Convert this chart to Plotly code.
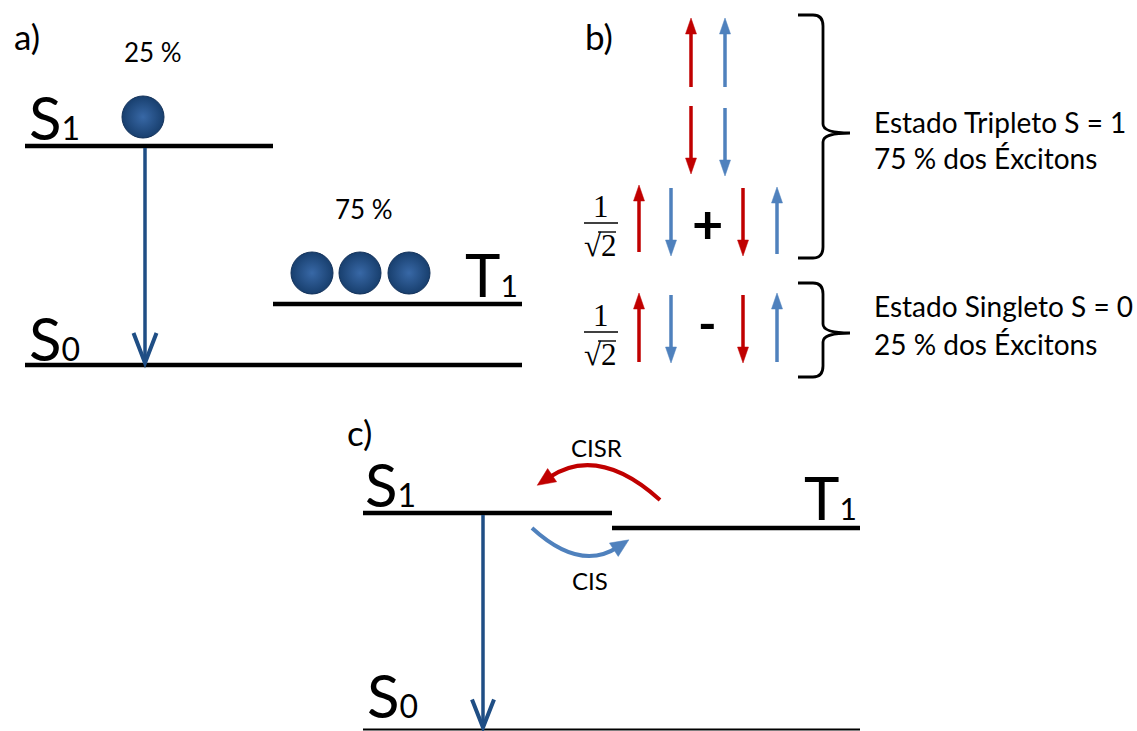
import math
import plotly.graph_objects as go

W, H = 1137, 731
FONT = "Lato"
SERIF = "Liberation Serif"
DARK_BLUE = "#1F4E85"
RED = "#C00000"
LBLUE = "#4F81BD"

# ---------------- content ----------------
panel_labels = ["a)", "b)", "c)"]
singlet_percent = 25
triplet_percent = 75
state_texts = ["Estado Tripleto S = 1", "75 % dos Éxcitons",
               "Estado Singleto S = 0", "25 % dos Éxcitons"]
transfer_labels = ["CISR", "CIS"]

# ---------------- panel a geometry ----------------
a_level_names = ["S", "T", "S"]
a_level_subs = ["1", "1", "0"]
a_level_x0 = [25, 273, 25]
a_level_x1 = [273, 522, 522]
a_level_y = [146, 304, 365]
a_label_x = [27, 463, 27]
a_label_y = [117, 274, 338]

singlet_sphere_x = [143]
singlet_sphere_y = [117]
triplet_sphere_x = [312, 360, 409]
triplet_sphere_y = [273, 273, 273]

# ---------------- panel c geometry ----------------
c_level_names = ["S", "T", "S"]
c_level_subs = ["1", "1", "0"]
c_level_x0 = [363, 612, 363]
c_level_x1 = [612, 860, 860]
c_level_y = [513, 528, 729.5]
c_level_w = [4.5, 4.5, 2]
c_label_x = [363, 802, 365]
c_label_y = [484, 497, 695]

# ---------------- panel b spin arrows ----------------
spin_x = [691, 725, 691, 725, 639, 671, 743, 777, 639, 671, 743, 777]
spin_tail = [87, 87, 106, 108, 252, 188, 188, 254, 362, 295, 295, 362]
spin_tip = [18, 18, 174, 176, 185, 256, 256, 187, 293, 363, 363, 293]
spin_color = [RED, LBLUE, RED, LBLUE, RED, LBLUE, RED, LBLUE, RED, LBLUE, RED, LBLUE]

shapes = []
annotations = []


def line(x0, y0, x1, y1, color="black", width=4.5):
    shapes.append(dict(type="line", xref="x", yref="y", x0=x0, y0=y0, x1=x1, y1=y1,
                       line=dict(color=color, width=width)))


def path(d, color="black", width=3, fill=None):
    s = dict(type="path", xref="x", yref="y", path=d, line=dict(color=color, width=width))
    if fill:
        s["fillcolor"] = fill
        s["line"] = dict(color=color, width=0.5)
    shapes.append(s)


def text(x, y, s, size, xanchor="left", yanchor="middle", family=FONT, color="black"):
    annotations.append(dict(x=x, y=y, xref="x", yref="y", text=s, showarrow=False,
                            xanchor=xanchor, yanchor=yanchor,
                            font=dict(family=family, size=size, color=color)))


def head(tx, ty, dx, dy, length, half, color):
    n = math.hypot(dx, dy)
    ux, uy = dx / n, dy / n
    px, py = -uy, ux
    bx, by = tx - ux * length, ty - uy * length
    d = (f"M {tx},{ty} L {bx + px * half},{by + py * half} "
         f"L {bx - px * half},{by - py * half} Z")
    path(d, color=color, fill=color)


def chevron(tx, ty, length, half, color, width):
    d = f"M {tx - half},{ty - length} L {tx},{ty} L {tx + half},{ty - length}"
    path(d, color=color, width=width)


def state_label(x, y, name, sub, big=60, small=32):
    text(x, y, f"{name}<span style='font-size:{small}px'>{sub}</span>", big)


# ---------------- panel a ----------------
text(12, 36, panel_labels[0], 35)
for x0, x1, y in zip(a_level_x0, a_level_x1, a_level_y):
    line(x0, y, x1, y)
for x, y, n, s in zip(a_label_x, a_label_y, a_level_names, a_level_subs):
    state_label(x, y, n, s, 60, 32 if n == "S" else 30)
text(153, 52, f"{singlet_percent} %", 26, xanchor="center")
text(364, 209, f"{triplet_percent} %", 26, xanchor="center")
# decay arrow
line(145, a_level_y[0] + 2, 145, a_level_y[2] - 4, DARK_BLUE, 3.5)
chevron(145, a_level_y[2] - 2, 30, 11.5, DARK_BLUE, 4)

# ---------------- panel b ----------------
text(583, 36, panel_labels[1], 35)
for x, t0, t1, c in zip(spin_x, spin_tail, spin_tip, spin_color):
    d = 1 if t1 > t0 else -1
    line(x, t0, x, t1 - d * 12, c, 3.5)
    head(x, t1, 0, d, 16, 5.5, c)

# 1/sqrt(2) prefactors
for yc in [223, 332]:
    text(601, yc - 17, "1", 31, xanchor="center", family=SERIF)
    line(584, yc, 618, yc, "black", 1.4)
    text(600, yc + 22, "√2", 31, xanchor="center", family=SERIF)
    line(598, yc + 9, 616, yc + 9, "black", 1.4)
text(707, 223, "<b>+</b>", 54, xanchor="center")
text(707, 323, "<b>-</b>", 50, xanchor="center")

# braces
def brace(xl, xm, xp, yt, ym, yb):
    d = (f"M {xl},{yt} L {xm - 10},{yt} Q {xm},{yt} {xm},{yt + 11} "
         f"L {xm},{ym - 9} Q {xm},{ym} {xp},{ym} Q {xm},{ym} {xm},{ym + 9} "
         f"L {xm},{yb - 11} Q {xm},{yb} {xm - 10},{yb} L {xl},{yb}")
    path(d, "black", 2.8)


brace(798, 823, 850, 15, 133, 258)
brace(798, 823, 850, 283, 333, 377)
text(872, 122, state_texts[0], 28)
text(872, 158, state_texts[1], 28)
text(872, 306, state_texts[2], 28)
text(872, 344, state_texts[3], 28)

# ---------------- panel c ----------------
text(345, 432, panel_labels[2], 35)
for x0, x1, y, w in zip(c_level_x0, c_level_x1, c_level_y, c_level_w):
    line(x0, y, x1, y, "black", w)
for x, y, n, s in zip(c_label_x, c_label_y, c_level_names, c_level_subs):
    state_label(x, y, n, s, 60, 32 if n == "S" else 30)
# decay arrow
line(483, c_level_y[0] + 2, 483, c_level_y[2] - 4, DARK_BLUE, 3.5)
chevron(483, c_level_y[2] - 2, 28, 11, DARK_BLUE, 4)

# CISR (red) curve: T1 -> S1
p0, cc, p2 = (660, 500), (598, 444), (548, 478)
path(f"M {p0[0]},{p0[1]} Q {cc[0]},{cc[1]} {p2[0]},{p2[1]}", RED, 4)
dx, dy = p2[0] - cc[0], p2[1] - cc[1]
n = math.hypot(dx, dy)
head(p2[0] + dx / n * 13, p2[1] + dy / n * 13, dx, dy, 18, 8, RED)
text(596, 447, transfer_labels[0], 24, xanchor="center")

# CIS (blue) curve: S1 -> T1
p0, cc, p2 = (532, 528), (580, 572), (618, 547)
path(f"M {p0[0]},{p0[1]} Q {cc[0]},{cc[1]} {p2[0]},{p2[1]}", LBLUE, 4)
dx, dy = p2[0] - cc[0], p2[1] - cc[1]
n = math.hypot(dx, dy)
head(p2[0] + dx / n * 13, p2[1] + dy / n * 13, dx, dy, 18, 8, LBLUE)
text(590, 580, transfer_labels[1], 24, xanchor="center")

fig = go.Figure()
sphere_marker = dict(size=42, color="#183F6E",
                     gradient=dict(type="radial", color="#3868A6"),
                     line=dict(color="#12315A", width=1))
fig.add_trace(go.Scatter(x=singlet_sphere_x, y=singlet_sphere_y, mode="markers",
                         marker=sphere_marker, hoverinfo="skip", showlegend=False))
fig.add_trace(go.Scatter(x=triplet_sphere_x, y=triplet_sphere_y, mode="markers",
                         marker=sphere_marker, hoverinfo="skip", showlegend=False))

fig.update_layout(
    width=W, height=H, margin=dict(l=0, r=0, t=0, b=0),
    paper_bgcolor="white", plot_bgcolor="white",
    xaxis=dict(range=[0, W], visible=False, fixedrange=True),
    yaxis=dict(range=[H, 0], visible=False, fixedrange=True),
    shapes=shapes, annotations=annotations, showlegend=False,
)
fig.write_html("out.html")
